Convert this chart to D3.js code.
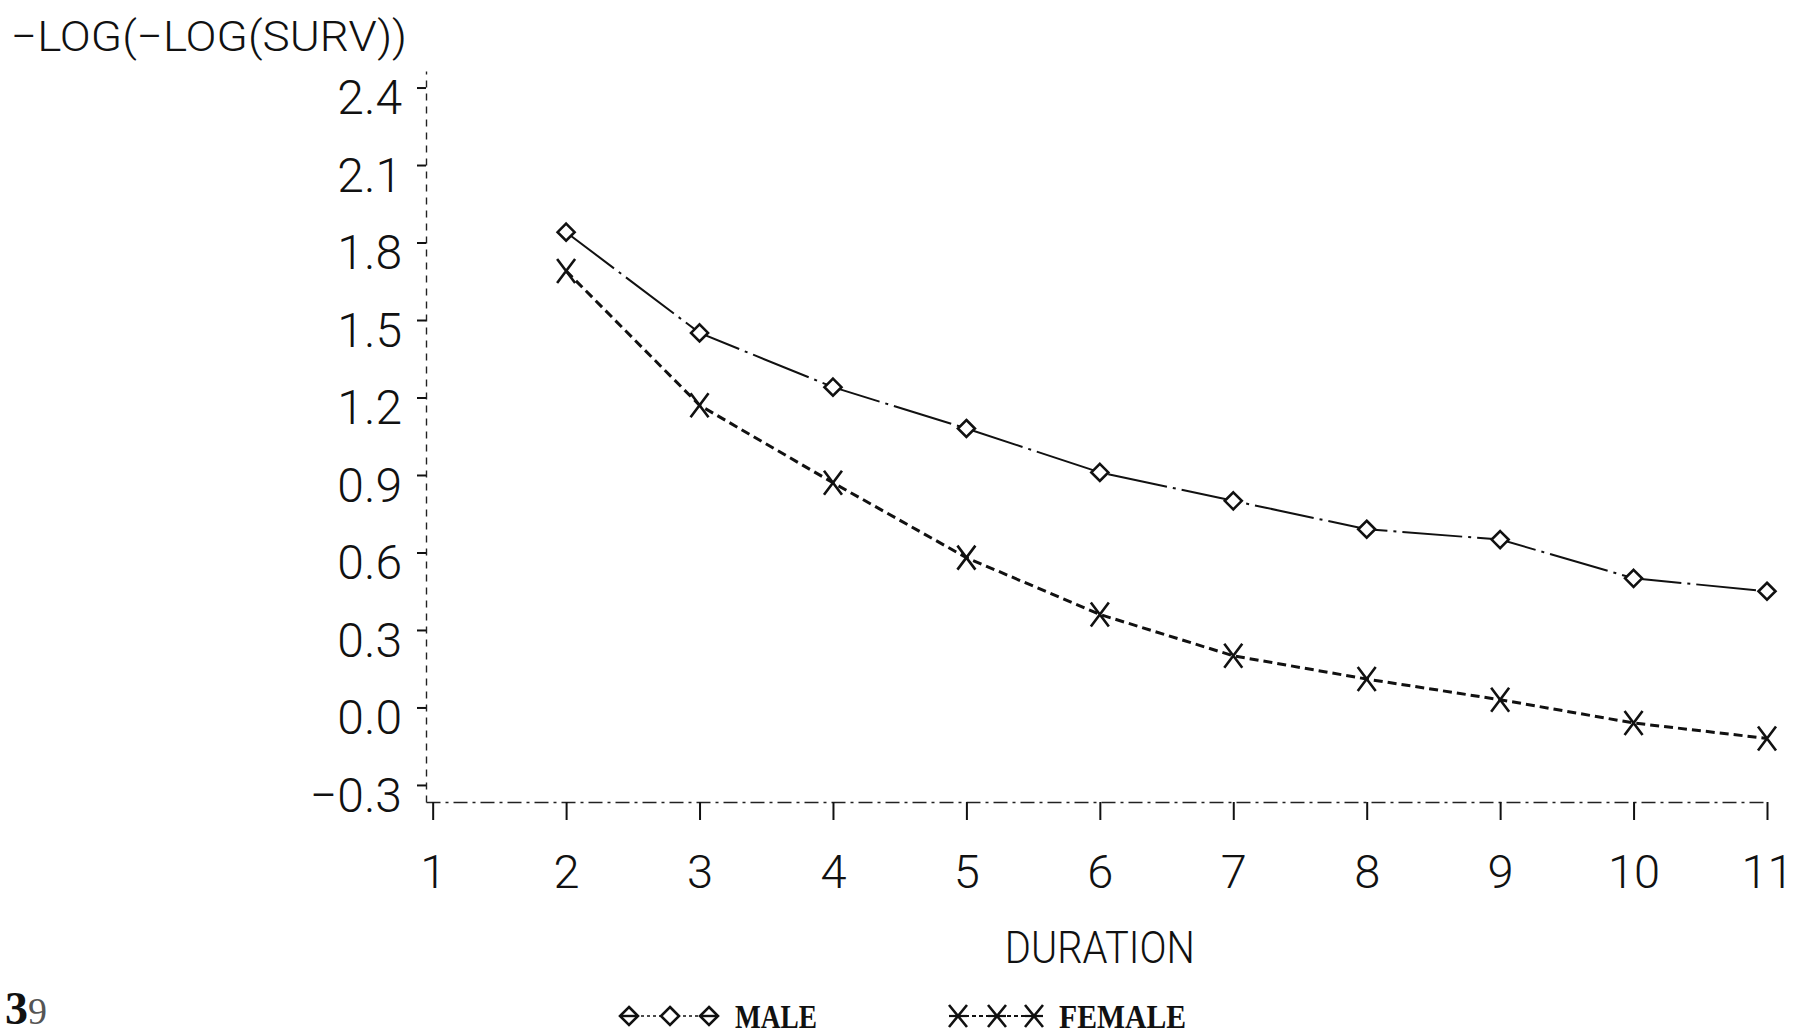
<!DOCTYPE html>
<html>
<head>
<meta charset="utf-8">
<script src="https://cdn.jsdelivr.net/npm/d3@7"></script>
<style>
  html, body { margin: 0; padding: 0; background: #fff; }
  svg { display: block; }
  .sans { font-family: Roboto, "Liberation Sans", sans-serif; font-weight: 300; fill: #111; }
  .serif { font-family: "Liberation Serif", "DejaVu Serif", serif; font-weight: bold; fill: #111; }
</style>
</head>
<body>
<svg id="chart" width="1797" height="1034"></svg>
<script>
// ---- data ----
const durations = [2, 3, 4, 5, 6, 7, 8, 9, 10, 11];
const maleValues = [1.84, 1.45, 1.24, 1.08, 0.91, 0.80, 0.69, 0.65, 0.50, 0.45];
const femaleValues = [1.69, 1.17, 0.87, 0.58, 0.36, 0.20, 0.11, 0.03, -0.06, -0.12];
const xTickValues = [1, 2, 3, 4, 5, 6, 7, 8, 9, 10, 11];
const yTickValues = [-0.3, 0.0, 0.3, 0.6, 0.9, 1.2, 1.5, 1.8, 2.1, 2.4];
const yTickLabels = ["\u22120.3", "0.0", "0.3", "0.6", "0.9", "1.2", "1.5", "1.8", "2.1", "2.4"];
const seriesNames = ["MALE", "FEMALE"];
const yTitle = "\u2212LOG(\u2212LOG(SURV))";
const xTitle = "DURATION";
const pageNumber = ["3", "9"];

// ---- layout ----
const svg = d3.select("#chart");
const x = d3.scaleLinear().domain([0.95, 11]).range([426, 1767]);
const y = d3.scaleLinear().domain([-0.366, 2.464]).range([802, 71]);

// x axis
const xAxis = d3.axisBottom(x).tickValues(xTickValues).tickFormat(d3.format("d"))
  .tickSizeInner(18).tickSizeOuter(0).tickPadding(34);
const gx = svg.append("g").attr("transform", `translate(0,${y(-0.366)})`).call(xAxis);
gx.select(".domain").attr("stroke", "#222").attr("stroke-width", 1.6)
  .attr("stroke-dasharray", "14,5,3,5");
gx.selectAll(".tick line").attr("stroke", "#111").attr("stroke-width", 2);
gx.selectAll(".tick text").attr("class", "sans").attr("font-size", 47).attr("dy", "0.72em");

// y axis
const yAxis = d3.axisLeft(y).tickValues(yTickValues)
  .tickFormat((d, i) => yTickLabels[i]).tickSizeInner(9).tickSizeOuter(0).tickPadding(15);
const gy = svg.append("g").attr("transform", `translate(${x(0.95)},0)`).call(yAxis);
gy.select(".domain").attr("stroke", "#222").attr("stroke-width", 1.4)
  .attr("stroke-dasharray", "7,6");
gy.selectAll(".tick line").attr("stroke", "#111").attr("stroke-width", 2);
gy.selectAll(".tick text").attr("class", "sans").attr("font-size", 48).attr("dy", "0.55em");

// titles
svg.append("text").attr("class", "sans").attr("x", 11).attr("y", 51)
  .attr("font-size", 42).attr("textLength", 396).attr("lengthAdjust", "spacingAndGlyphs")
  .text(yTitle);
svg.append("text").attr("class", "sans").attr("x", x(6)).attr("y", 963)
  .attr("text-anchor", "middle").attr("font-size", 44)
  .attr("textLength", 190).attr("lengthAdjust", "spacingAndGlyphs").text(xTitle);

// series
const male = durations.map((d, i) => ({ x: d, y: maleValues[i] }));
const female = durations.map((d, i) => ({ x: d, y: femaleValues[i] }));
const line = d3.line().x(d => x(d.x)).y(d => y(d.y));

svg.append("path").datum(male).attr("d", line).attr("fill", "none")
  .attr("stroke", "#111").attr("stroke-width", 2)
  .attr("stroke-dasharray", "60,6,3,6");
svg.append("path").datum(female).attr("d", line).attr("fill", "none")
  .attr("stroke", "#111").attr("stroke-width", 3)
  .attr("stroke-dasharray", "9,5");

function diamondPath(cx, cy, r) {
  return `M${cx},${cy - r}L${cx + r},${cy}L${cx},${cy + r}L${cx - r},${cy}Z`;
}
function crossPath(cx, cy, w, h) {
  return `M${cx - w},${cy - h}L${cx + w},${cy + h}M${cx + w},${cy - h}L${cx - w},${cy + h}`;
}

svg.append("g").selectAll("path").data(male).join("path")
  .attr("d", d => diamondPath(x(d.x), y(d.y), 8.5))
  .attr("fill", "#fff").attr("stroke", "#111").attr("stroke-width", 2.6);
svg.append("g").selectAll("path").data(female).join("path")
  .attr("d", d => crossPath(x(d.x), y(d.y), 9, 12))
  .attr("fill", "none").attr("stroke", "#111").attr("stroke-width", 2.6);

// legend
const lg = svg.append("g");
const legY = 1016;
const maleLegX = [629, 670, 709];
const femLegX = [958, 997, 1034];
lg.append("line").attr("x1", maleLegX[0]).attr("x2", maleLegX[2]).attr("y1", legY).attr("y2", legY)
  .attr("stroke", "#111").attr("stroke-width", 1.5).attr("stroke-dasharray", "3,3");
maleLegX.forEach((lx, i) => {
  lg.append("path").attr("d", diamondPath(lx, legY, 9))
    .attr("fill", "#fff").attr("stroke", "#111").attr("stroke-width", 2.6);
  if (i !== 1) lg.append("line").attr("x1", lx - 9).attr("x2", lx + 9).attr("y1", legY).attr("y2", legY)
    .attr("stroke", "#111").attr("stroke-width", 2.4);
});
lg.append("text").attr("class", "serif").attr("x", 735).attr("y", 1028)
  .attr("font-size", 34).attr("textLength", 82).attr("lengthAdjust", "spacingAndGlyphs")
  .text(seriesNames[0]);

lg.append("line").attr("x1", femLegX[0]).attr("x2", femLegX[2]).attr("y1", legY).attr("y2", legY)
  .attr("stroke", "#111").attr("stroke-width", 2).attr("stroke-dasharray", "4,3");
femLegX.forEach((lx, i) => {
  lg.append("path").attr("d", crossPath(lx, legY, 9, 11))
    .attr("fill", "none").attr("stroke", "#111").attr("stroke-width", 2.6);
  lg.append("line").attr("x1", lx - 9).attr("x2", lx + 9).attr("y1", legY).attr("y2", legY)
    .attr("stroke", "#111").attr("stroke-width", 2.2);
});
lg.append("text").attr("class", "serif").attr("x", 1059).attr("y", 1028)
  .attr("font-size", 34).attr("textLength", 127).attr("lengthAdjust", "spacingAndGlyphs")
  .text(seriesNames[1]);

// page number
const pn = svg.append("text").attr("x", 5).attr("y", 1024).attr("font-size", 46)
  .attr("font-family", "'Liberation Serif', serif");
pn.append("tspan").attr("font-weight", "bold").attr("fill", "#111").text(pageNumber[0]);
pn.append("tspan").attr("font-size", 38).attr("fill", "#555").text(pageNumber[1]);
</script>
</body>
</html>
